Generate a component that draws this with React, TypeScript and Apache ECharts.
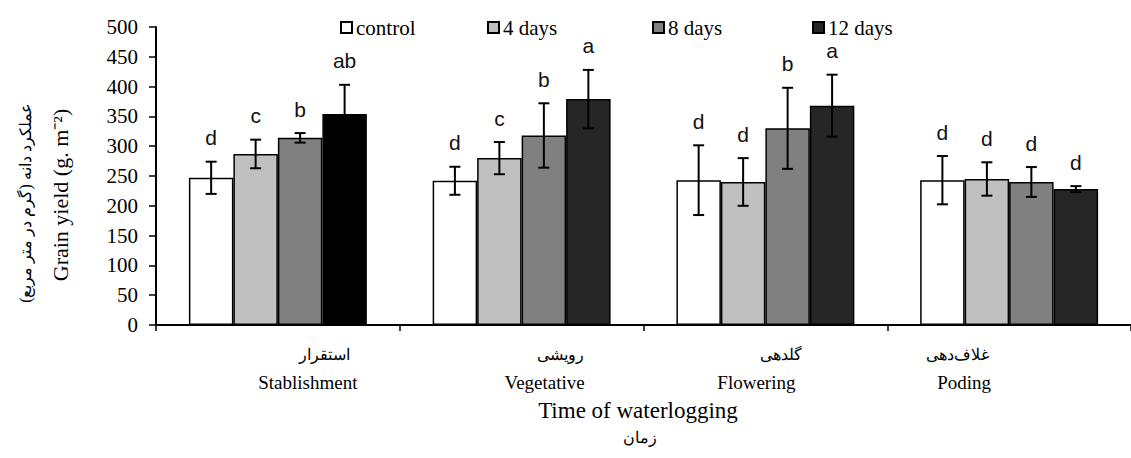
import React, { useEffect, useRef } from "react";
import * as echarts from "echarts";

const categories = ["Stablishment", "Vegetative", "Flowering", "Poding"];
const categoriesFa = ["استقرار", "رویشی", "گلدهی", "غلاف‌دهی"];
const seriesNames = ["control", "4 days", "8 days", "12 days"];

const control = [247, 242, 243, 243];
const days4 = [287, 280, 240, 245];
const days8 = [314, 318, 330, 240];
const days12 = [354, 379, 368, 228];

const errControl = [27, 23.5, 58.5, 40.5];
const err4 = [24, 27, 40, 28];
const err8 = [8, 54, 68, 25];
const err12 = [49, 49, 52, 5];

const lettersControl = ["d", "d", "d", "d"];
const letters4 = ["c", "c", "d", "d"];
const letters8 = ["b", "b", "b", "d"];
const letters12 = ["ab", "a", "a", "d"];

const yTicks = [0, 50, 100, 150, 200, 250, 300, 350, 400, 450, 500];

const SERIF = "'Liberation Serif', 'Times New Roman', serif";
const SANS = "'Liberation Sans', Arial, sans-serif";

const colors = ["#ffffff", "#c0c0c0", "#808080", "#262626"];
const values = [control, days4, days8, days12];
const errors = [errControl, err4, err8, err12];
const letters = [lettersControl, letters4, letters8, letters12];

// horizontal shifts of the hand-placed category labels
const faShift = [47, 39, 16, -52];
const enShift = [30, 23, -9, -45];

const GAP = 0.27;

export default function App() {
  const ref = useRef<HTMLDivElement>(null);

  useEffect(() => {
    if (!ref.current) return;
    const chart = echarts.init(ref.current, null, { renderer: "svg" });

    const rich: any = {};
    categories.forEach((_, i) => {
      const fs = faShift[i];
      const es = enShift[i];
      rich["fa" + i] = {
        fontFamily: SERIF,
        fontSize: 16,
        lineHeight: 28,
        color: "#000",
        padding: fs >= 0 ? [0, 0, 0, 2 * fs] : [0, -2 * fs, 0, 0],
      };
      rich["en" + i] = {
        fontFamily: SERIF,
        fontSize: 19,
        lineHeight: 28,
        color: "#000",
        padding: es >= 0 ? [0, 0, 0, 2 * es] : [0, -2 * es, 0, 0],
      };
    });

    const barSeries = seriesNames.map((name, k) => ({
      type: "bar",
      name,
      barGap: "0%",
      barCategoryGap: GAP * 100 + "%",
      itemStyle: { color: colors[k], borderColor: "#000", borderWidth: 1.5 },
      data: values[k].map((v, i) =>
        k === 3 && i === 0 ? { value: v, itemStyle: { color: "#000" } } : v
      ),
      z: 2,
    }));

    const errSeries = seriesNames.map((name, k) => ({
      type: "custom",
      name: name + " err",
      z: 5,
      silent: true,
      data: categories.map((_, i) => [i, values[k][i], errors[k][i]]),
      renderItem: (params: any, api: any) => {
        const i = api.value(0);
        const v = api.value(1);
        const e = api.value(2);
        const c = api.coord([i, v]);
        const bw = api.size([1, 0])[0];
        const barW = (bw * (1 - GAP)) / 4;
        const x = c[0] + (k - 1.5) * barW;
        const top = api.coord([i, v + e])[1];
        const bot = api.coord([i, v - e])[1];
        const cap = 5.5;
        const ls = { stroke: "#000", lineWidth: 2 };
        return {
          type: "group",
          children: [
            { type: "line", shape: { x1: x, y1: top, x2: x, y2: bot }, style: ls },
            { type: "line", shape: { x1: x - cap, y1: top, x2: x + cap, y2: top }, style: ls },
            { type: "line", shape: { x1: x - cap, y1: bot, x2: x + cap, y2: bot }, style: ls },
            {
              type: "text",
              x: x,
              y: top - 24,
              style: {
                text: letters[k][params.dataIndex],
                fontFamily: SANS,
                fontSize: 21,
                fill: "#111",
                align: "center",
                verticalAlign: "middle",
              },
            },
          ],
        };
      },
    }));

    const legendLefts = [340, 487, 652, 812];
    const legends = seriesNames.map((name, k) => ({
      data: [name],
      left: legendLefts[k],
      top: 17,
      padding: 0,
      icon: "rect",
      itemWidth: 11,
      itemHeight: 11,
      selectedMode: false,
      textStyle: { fontFamily: SERIF, fontSize: 21, color: "#000", padding: [0, 0, 0, -1] },
    }));

    chart.setOption({
      animation: false,
      backgroundColor: "#fff",
      legend: legends,
      grid: { left: 156, right: -8, top: 27, bottom: 133, containLabel: false },
      xAxis: {
        type: "category",
        data: categories,
        axisLine: { lineStyle: { color: "#000", width: 2 } },
        axisTick: { show: true, length: 6, lineStyle: { color: "#000", width: 1.5 } },
        axisLabel: {
          interval: 0,
          margin: 15,
          formatter: (val: string, idx: number) => `{fa${idx}|${categoriesFa[idx]}}\n{en${idx}|${val}}`,
          rich,
        },
      },
      yAxis: {
        type: "value",
        min: yTicks[0],
        max: yTicks[yTicks.length - 1],
        interval: yTicks[1] - yTicks[0],
        splitLine: { show: false },
        axisLine: { show: true, lineStyle: { color: "#000", width: 2 } },
        axisTick: { show: true, length: 7, lineStyle: { color: "#000", width: 1.5 } },
        axisLabel: { fontFamily: SERIF, fontSize: 21, color: "#000", margin: 18 },
      },
      graphic: [
        {
          type: "text",
          x: 25,
          y: 203,
          rotation: Math.PI / 2,
          style: {
            text: "عملکرد دانه (گرم در متر مربع)",
            fontFamily: SERIF,
            fontSize: 16,
            fill: "#000",
            align: "center",
            verticalAlign: "middle",
          },
        },
        {
          type: "text",
          x: 60,
          y: 195,
          rotation: Math.PI / 2,
          style: {
            text: "Grain yield (g. m⁻²)",
            fontFamily: SERIF,
            fontSize: 22,
            fill: "#000",
            align: "center",
            verticalAlign: "middle",
          },
        },
        {
          type: "text",
          x: 638,
          y: 410,
          style: {
            text: "Time of waterlogging",
            fontFamily: SERIF,
            fontSize: 23,
            fill: "#000",
            align: "center",
            verticalAlign: "middle",
          },
        },
        {
          type: "text",
          x: 640,
          y: 437,
          style: {
            text: "زمان",
            fontFamily: SERIF,
            fontSize: 16,
            fill: "#000",
            align: "center",
            verticalAlign: "middle",
          },
        },
      ],
      series: [...barSeries, ...errSeries],
    });

    return () => chart.dispose();
  }, []);

  return (
    <div
      ref={ref}
      style={{ position: "absolute", left: 0, top: 0, width: 1131, height: 458 }}
    />
  );
}
